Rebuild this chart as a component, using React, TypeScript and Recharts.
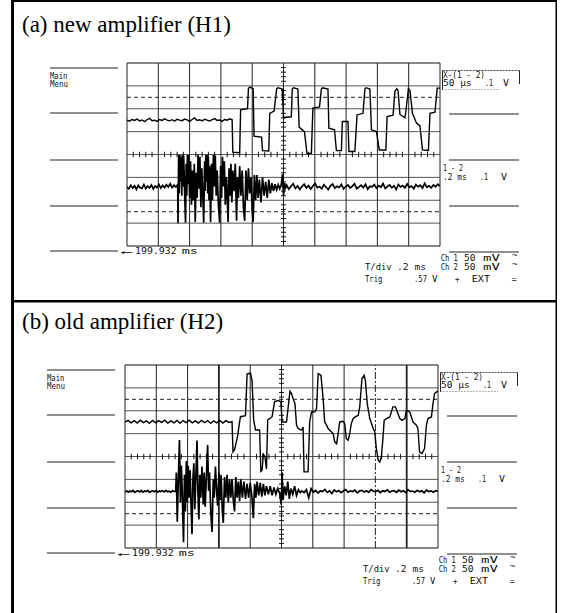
import React from "react";
import { LineChart, Line, XAxis, YAxis, ReferenceLine } from "recharts";

type Pt = { x: number; y: number };

// graticule, in scope divisions (10 x 8)
const gridCols = [0, 1, 2, 3, 4, 5, 6, 7, 8, 9, 10];
const gridRows = [0, 1, 2, 3, 4, 5, 6, 7, 8];
const dashedRows = [1.5, 6.5];
const centerCol = 5;
const centerRow = 4;
const minorX = gridCols.slice(0, -1).flatMap((c) => [c + 0.2, c + 0.4, c + 0.6, c + 0.8]);
const minorY = gridRows.slice(0, -1).flatMap((r) => [r + 0.2, r + 0.4, r + 0.6, r + 0.8]);

// (a) new amplifier: X-(1-2) trace, sampled noise before the steps
const aTopNoise = [
  5.5, 5.46, 5.53, 5.49, 5.55, 5.47, 5.51, 5.44, 5.52, 5.58, 5.48, 5.5, 5.45, 5.53, 5.49, 5.56,
  5.5, 5.47, 5.52, 5.46, 5.54, 5.5, 5.48, 5.55, 5.51, 5.45, 5.53, 5.6, 5.49, 5.52, 5.47, 5.54,
  5.5, 5.46, 5.52, 5.57, 5.49, 5.51, 5.45, 5.53, 5.5, 5.56, 5.52,
];
const aTopSteps = [
  [3.36, 5.5], [3.38, 4.1], [3.6, 4.08], [3.63, 5.95], [3.85, 6.0], [3.88, 6.88], [3.92, 6.95],
  [4.03, 6.88], [4.06, 4.8], [4.3, 4.76], [4.33, 4.17], [4.53, 4.15], [4.56, 5.8], [4.7, 5.9],
  [4.78, 6.86], [4.82, 6.92], [4.96, 6.86], [5.0, 5.62], [5.25, 5.65], [5.28, 6.86], [5.32, 6.92],
  [5.46, 6.86], [5.5, 5.2], [5.67, 5.0], [5.75, 4.05], [5.89, 4.05], [5.94, 6.03], [6.15, 6.08],
  [6.21, 6.86], [6.25, 6.92], [6.42, 6.86], [6.45, 5.15], [6.63, 5.08], [6.69, 4.17], [6.85, 4.17],
  [6.88, 5.44], [7.06, 5.44], [7.09, 4.13], [7.28, 4.13], [7.35, 5.73], [7.54, 5.8], [7.6, 6.86],
  [7.64, 6.92], [7.76, 6.86], [7.81, 5.08], [7.97, 5.0], [8.06, 4.2], [8.27, 4.2], [8.31, 5.66],
  [8.5, 5.72], [8.56, 6.76], [8.62, 6.88], [8.66, 6.8], [8.72, 5.75], [8.88, 5.6], [8.92, 6.0],
  [8.99, 6.88], [9.04, 6.8], [9.12, 5.8], [9.25, 5.37], [9.36, 5.25], [9.44, 4.2], [9.63, 4.18],
  [9.68, 5.8], [9.84, 5.85], [9.91, 6.9], [10, 6.9],
];
// (a) 1-2 trace
const aBotPre = [
  2.58, 2.5, 2.66, 2.53, 2.63, 2.48, 2.65, 2.55, 2.52, 2.69, 2.51, 2.62, 2.54, 2.67, 2.49, 2.62,
  2.56, 2.69, 2.53, 2.65, 2.55, 2.68, 2.58, 2.72, 2.55, 2.66, 2.58, 2.68,
];
const aBotBurst = [
  [1.62, 2.6], [1.63, 1.0], [1.65, 3.98], [1.67, 2.3], [1.69, 3.98], [1.71, 2.8], [1.73, 3.9],
  [1.75, 2.2], [1.77, 3.98], [1.79, 2.6], [1.81, 3.95], [1.84, 2.4], [1.87, 1.02], [1.89, 3.6],
  [1.91, 2.2], [1.93, 3.98], [1.95, 2.7], [1.97, 3.98], [2.0, 2.1], [2.03, 3.7], [2.06, 1.8],
  [2.09, 3.3], [2.12, 2.0], [2.15, 3.6], [2.18, 1.05], [2.21, 3.2], [2.24, 2.1], [2.27, 3.98],
  [2.3, 2.5], [2.33, 3.9], [2.36, 1.7], [2.39, 3.4], [2.42, 2.3], [2.45, 1.02], [2.48, 3.7],
  [2.5, 2.4], [2.52, 3.98], [2.54, 2.8], [2.56, 3.98], [2.58, 2.3], [2.6, 3.9], [2.62, 2.0],
  [2.64, 3.5], [2.67, 1.05], [2.7, 3.6], [2.73, 2.0], [2.76, 3.98], [2.79, 2.6], [2.82, 3.95],
  [2.85, 2.2], [2.88, 3.3], [2.92, 1.8], [2.96, 1.02], [2.99, 3.5], [3.02, 2.1], [3.05, 3.9],
  [3.08, 2.6], [3.11, 3.7], [3.14, 1.8], [3.18, 3.0], [3.23, 1.05], [3.26, 3.4], [3.29, 2.2],
  [3.32, 3.6], [3.35, 1.9], [3.38, 3.3], [3.42, 2.4], [3.46, 3.6], [3.5, 1.1], [3.53, 3.0],
  [3.56, 2.1], [3.6, 3.5], [3.64, 2.2], [3.68, 3.3], [3.72, 1.7], [3.76, 1.1], [3.8, 3.3],
  [3.84, 2.0], [3.88, 3.4], [3.92, 2.3], [3.96, 3.0], [4.0, 1.6], [4.03, 1.05], [4.07, 3.1],
  [4.11, 2.0], [4.15, 3.1], [4.19, 2.1], [4.23, 2.9], [4.28, 1.9], [4.33, 3.0], [4.38, 2.2],
  [4.43, 2.8], [4.48, 2.1], [4.53, 2.9], [4.58, 2.3], [4.63, 2.75], [4.68, 2.4], [4.73, 2.7],
  [4.78, 2.45], [4.83, 2.68], [4.88, 2.5], [4.93, 2.7], [4.97, 3.15], [5.0, 2.2], [5.03, 2.75],
  [5.07, 2.55],
];
const aBotPost = [
  2.66, 2.48, 2.61, 2.72, 2.52, 2.63, 2.47, 2.6, 2.7, 2.54, 2.64, 2.49, 2.62, 2.74, 2.55, 2.6,
  2.5, 2.68, 2.57, 2.47, 2.63, 2.71, 2.53, 2.61, 2.56, 2.69, 2.5, 2.6, 2.67, 2.54, 2.62, 2.72,
  2.51, 2.58, 2.66, 2.55, 2.7, 2.48, 2.61, 2.59, 2.68, 2.53, 2.64, 2.57, 2.73, 2.52, 2.6, 2.67,
  2.55, 2.63, 2.47, 2.69, 2.58, 2.64, 2.54, 2.71, 2.56, 2.62, 2.5, 2.68, 2.59, 2.66, 2.53, 2.74,
  2.57, 2.63, 2.55, 2.67, 2.59, 2.7, 2.62,
];

// (b) old amplifier: X-(1-2) trace
const bTopNoise = [
  5.5, 5.58, 5.47, 5.57, 5.46, 5.59, 5.48, 5.56, 5.45, 5.58, 5.47, 5.57, 5.49, 5.59, 5.46, 5.56,
  5.47, 5.58, 5.45, 5.57, 5.48, 5.59, 5.47, 5.56, 5.46, 5.58, 5.48, 5.57, 5.45, 5.56, 5.47, 5.58,
  5.46, 5.57, 5.49, 5.52,
];
const bTopSteps = [
  [3.42, 5.5], [3.45, 4.2], [3.5, 4.3], [3.6, 4.9], [3.66, 5.5], [3.69, 5.74], [3.85, 5.78],
  [3.9, 7.6], [4.01, 7.64], [4.06, 7.3], [4.11, 5.6], [4.17, 5.16], [4.3, 5.16], [4.34, 3.35],
  [4.38, 3.4], [4.42, 4.1], [4.47, 4.0], [4.52, 3.45], [4.56, 5.6], [4.7, 5.74], [4.78, 6.4],
  [4.9, 6.45], [4.98, 6.4], [5.02, 5.51], [5.16, 5.51], [5.27, 6.85], [5.32, 6.75], [5.37, 6.53],
  [5.43, 6.31], [5.48, 5.37], [5.53, 5.22], [5.64, 5.15], [5.69, 5.29], [5.72, 3.33], [5.85, 3.33],
  [5.9, 5.51], [5.96, 5.95], [6.06, 5.95], [6.12, 6.09], [6.17, 7.62], [6.26, 7.55], [6.33, 6.53],
  [6.38, 5.51], [6.44, 5.37], [6.49, 5.22], [6.54, 5.15], [6.65, 5.0], [6.7, 4.64], [6.76, 4.56],
  [6.81, 5.0], [6.86, 5.51], [6.97, 5.54], [7.02, 5.44], [7.07, 4.78], [7.13, 4.71], [7.18, 5.0],
  [7.23, 5.44], [7.29, 5.66], [7.36, 5.73], [7.45, 5.8], [7.5, 6.17], [7.57, 7.4], [7.64, 7.55],
  [7.68, 7.33], [7.74, 6.31], [7.82, 5.66], [7.93, 5.22], [7.98, 5.07], [8.03, 4.35], [8.09, 3.84],
  [8.14, 3.76], [8.19, 3.98], [8.24, 4.78], [8.28, 5.58], [8.35, 5.66], [8.46, 5.73], [8.51, 5.95],
  [8.56, 6.17], [8.64, 6.17], [8.7, 5.95], [8.78, 5.66], [8.85, 5.58], [8.94, 5.66], [8.99, 6.02],
  [9.1, 5.95], [9.15, 5.73], [9.2, 5.51], [9.31, 5.37], [9.36, 5.22], [9.41, 4.2], [9.49, 4.13],
  [9.57, 4.35], [9.63, 5.37], [9.68, 5.66], [9.79, 5.73], [9.84, 6.31], [9.89, 6.75], [9.98, 6.85],
  [10, 6.85],
];
// (b) 1-2 trace
const bBotPre = [
  2.45, 2.5, 2.44, 2.49, 2.46, 2.52, 2.43, 2.48, 2.5, 2.45, 2.51, 2.44, 2.49, 2.47, 2.52, 2.43,
  2.48, 2.5, 2.46, 2.51, 2.44, 2.49, 2.47, 2.5, 2.45, 2.52, 2.46, 2.48, 2.44, 2.5, 2.47, 2.47,
];
const bBotBurst = [
  [1.62, 2.47], [1.64, 3.3], [1.67, 1.15], [1.7, 2.8], [1.74, 4.72], [1.77, 2.0], [1.8, 3.6],
  [1.83, 2.4], [1.87, 0.25], [1.9, 3.2], [1.93, 1.6], [1.96, 3.8], [1.99, 2.0], [2.02, 3.6],
  [2.05, 2.2], [2.08, 3.4], [2.11, 1.9], [2.14, 0.6], [2.17, 3.0], [2.2, 3.7], [2.23, 1.7],
  [2.26, 2.9], [2.3, 4.7], [2.33, 2.4], [2.36, 1.25], [2.39, 3.2], [2.42, 2.2], [2.46, 3.56],
  [2.5, 1.9], [2.53, 3.3], [2.56, 1.8], [2.6, 3.1], [2.64, 4.5], [2.67, 2.5], [2.7, 3.3],
  [2.74, 1.6], [2.78, 0.7], [2.82, 3.0], [2.85, 2.2], [2.89, 3.56], [2.93, 2.4], [2.96, 1.85],
  [3.0, 3.3], [3.04, 2.1], [3.07, 3.2], [3.11, 1.6], [3.14, 1.1], [3.18, 3.1], [3.22, 2.2],
  [3.26, 3.2], [3.3, 2.0], [3.34, 3.0], [3.38, 2.2], [3.42, 3.0], [3.46, 2.1], [3.5, 1.6],
  [3.54, 3.1], [3.58, 2.2], [3.62, 2.9], [3.66, 2.05], [3.7, 3.0], [3.75, 2.2], [3.8, 2.9],
  [3.85, 2.15], [3.9, 2.8], [3.95, 2.2], [4.0, 2.85], [4.05, 2.3], [4.1, 1.3], [4.14, 2.8],
  [4.18, 2.2], [4.22, 2.9], [4.27, 2.3], [4.32, 2.85], [4.37, 2.25], [4.42, 2.8], [4.47, 2.3],
  [4.52, 2.7], [4.58, 2.35], [4.64, 2.7], [4.7, 2.3], [4.76, 2.65], [4.82, 2.35], [4.88, 2.6],
  [4.94, 2.4], [4.99, 1.9], [5.02, 3.3], [5.05, 2.1], [5.1, 2.7], [5.15, 2.3], [5.2, 2.9],
  [5.25, 2.15], [5.3, 2.6], [5.36, 2.35], [5.42, 2.7], [5.48, 2.3], [5.54, 2.55], [5.6, 2.42],
];
const bBotPost = [
  2.5, 2.42, 2.55, 2.2, 2.6, 2.44, 2.52, 2.4, 2.5, 2.47, 2.56, 2.43, 2.5, 2.38, 2.54, 2.46,
  2.51, 2.42, 2.49, 2.55, 2.44, 2.5, 2.47, 2.53, 2.41, 2.49, 2.52, 2.45, 2.5, 2.43, 2.55, 2.48,
  2.46, 2.52, 2.42, 2.5, 2.47, 2.54, 2.44, 2.49, 2.51, 2.43, 2.53, 2.46, 2.5, 2.42, 2.55, 2.47,
  2.49, 2.44, 2.52, 2.46, 2.5, 2.41, 2.53, 2.47, 2.5, 2.44, 2.51, 2.48,
];

// samples taken at even time steps between start and end
function spread(start: number, end: number, ys: number[]): Pt[] {
  const step = (end - start) / (ys.length - 1);
  return ys.map((y, i) => ({ x: start + i * step, y }));
}
function pairs(list: number[][]): Pt[] {
  return list.map(([x, y]) => ({ x, y }));
}

const aTraces = [
  [...spread(0, 3.36, aTopNoise), ...pairs(aTopSteps)],
  [...spread(0, 1.62, aBotPre), ...pairs(aBotBurst), ...spread(5.1, 10, aBotPost)],
];
const bTraces = [
  [...spread(0, 3.42, bTopNoise), ...pairs(bTopSteps)],
  [...spread(0, 1.62, bBotPre), ...pairs(bBotBurst), ...spread(5.65, 10, bBotPost)],
];

const GRID_W = 313;
const GRID_H = 183;
const PAD = 4;

function Scope({ left, top, traces, heavyCols = [], dashCols = [] }: {
  left: number; top: number; traces: Pt[][]; heavyCols?: number[]; dashCols?: number[];
}) {
  return (
    <div style={{ position: "absolute", left: left - PAD, top: top - PAD }}>
      <LineChart
        width={GRID_W + 2 * PAD}
        height={GRID_H + 2 * PAD}
        margin={{ top: PAD, right: PAD, bottom: PAD, left: PAD }}
      >
        <XAxis type="number" dataKey="x" domain={[0, 10]} hide allowDataOverflow />
        <YAxis type="number" domain={[0, 8]} hide allowDataOverflow />
        {gridRows.map((r) => (
          <ReferenceLine key={"r" + r} y={r} stroke={r === 0 || r === 8 ? "#111" : "#555"} strokeWidth={1} />
        ))}
        {dashedRows.map((r) => (
          <ReferenceLine key={"d" + r} y={r} stroke="#222" strokeWidth={1} strokeDasharray="4 3" />
        ))}
        {gridCols.map((c) => (
          <ReferenceLine
            key={"c" + c}
            x={c}
            stroke="#222"
            strokeWidth={heavyCols.includes(c) ? 1.8 : 1}
            strokeDasharray={dashCols.includes(c) ? "7 2 2 2" : undefined}
          />
        ))}
        {minorX.map((t) => (
          <ReferenceLine key={"mx" + t} segment={[{ x: t, y: centerRow - 0.12 }, { x: t, y: centerRow + 0.12 }]} stroke="#111" strokeWidth={1} />
        ))}
        {minorY.map((t) => (
          <ReferenceLine key={"my" + t} segment={[{ x: centerCol - 0.08, y: t }, { x: centerCol + 0.08, y: t }]} stroke="#111" strokeWidth={1} />
        ))}
        {traces.map((t, i) => (
          <Line
            key={i}
            data={t}
            dataKey="y"
            type="linear"
            stroke="#000"
            strokeWidth={i === 0 ? 1.4 : 1.7}
            dot={false}
            isAnimationActive={false}
          />
        ))}
      </LineChart>
    </div>
  );
}

// scope screen text: [text, x, baseline, width]
const screenText: [string, number, number, number][] = [
  ["Main", 50, 78.5, 17.5],
  ["Menu", 50, 87, 18],
  ["X-(1 - 2)", 443, 77.5, 42],
  ["50 µs", 443, 86, 28.7],
  [".1", 485, 86, 8],
  ["V", 503, 86, 6],
  ["1 - 2", 443, 170.5, 20],
  [".2 ms", 443, 180, 23.7],
  [".1", 480, 180, 8],
  ["V", 501, 180, 6],
  ["Ch 1", 440.7, 260.5, 17],
  ["50", 464, 260.5, 11.5],
  ["mV", 483, 260.5, 17],
  ["T/div", 365, 269.5, 26.7],
  [".2 ms", 397, 269.5, 29],
  ["Ch 2", 440.7, 269.5, 17],
  ["50", 464, 269.5, 11.5],
  ["mV", 483, 269.5, 17],
  ["Trig", 365, 281.5, 17.5],
  [".57", 414, 281.5, 13],
  ["V", 432, 281.5, 5.5],
  ["+", 455, 281.5, 4.5],
  ["EXT", 471.7, 281.5, 18.3],
  ["=", 511.7, 281.5, 5],
  ["←", 120, 254.5, 13],
  ["199.932", 135, 254, 41.7],
  ["ms", 181.7, 254, 16.3],
];
const tildes = [258, 267];

const mono = { fontFamily: "DejaVu Sans Mono", fontSize: 8.5, fill: "#111" } as const;

function Labels({ dy, dxL, dxR }: { dy: number; dxL: number; dxR: number }) {
  const leftLines = [68, 113, 160, 206, 251];
  const rightLines = [114, 160, 206, 252];
  return (
    <g>
      {leftLines.map((y) => (
        <line key={"l" + y} x1={50 + dxL} x2={118 + dxL} y1={y + dy} y2={y + dy} stroke="#222" strokeWidth={1} />
      ))}
      {rightLines.map((y) => (
        <line key={"rr" + y} x1={449 + dxR} x2={519 + dxR} y1={y + dy} y2={y + dy} stroke="#222" strokeWidth={1} />
      ))}
      {screenText.map(([s, x, y, w], i) => {
        const dx = x < 300 ? dxL : dxR;
        return (
          <text key={i} x={x + dx} y={y + dy} textLength={w} lengthAdjust="spacingAndGlyphs" {...mono}>
            {s}
          </text>
        );
      })}
      {tildes.map((y) => (
        <text key={"t" + y} x={512 + dxR} y={y + dy} {...mono} fontSize={9}>~</text>
      ))}
      <line x1={442.5 + dxR} x2={442.5 + dxR} y1={70.5 + dy} y2={90 + dy} stroke="#222" />
      <line x1={519.5 + dxR} x2={519.5 + dxR} y1={70.5 + dy} y2={84 + dy} stroke="#222" />
      <line x1={442.5 + dxR} x2={519.5 + dxR} y1={70.5 + dy} y2={70.5 + dy} stroke="#444" strokeDasharray="2 1" />
      <line x1={442.5 + dxR} x2={500 + dxR} y1={89.5 + dy} y2={89.5 + dy} stroke="#666" strokeDasharray="1 2" />
    </g>
  );
}

export default function App() {
  return (
    <div style={{ position: "absolute", left: 0, top: 0, width: 564, height: 613, background: "#fff", overflow: "hidden" }}>
      <svg width={564} height={613} style={{ position: "absolute", left: 0, top: 0 }}>
        <rect x={11} y={0} width={3} height={613} fill="#000" />
        <rect x={11} y={0} width={546} height={2} fill="#000" />
        <rect x={555.5} y={0} width={1.5} height={613} fill="#000" />
        <rect x={11} y={300} width={546} height={2.5} fill="#000" />
        <text x={22} y={32} fontFamily="Liberation Serif" fontSize={23} fill="#000">(a) new amplifier (H1)</text>
        <text x={22} y={329} fontFamily="Liberation Serif" fontSize={23} fill="#000">(b) old amplifier (H2)</text>
        <Labels dy={0} dxL={0} dxR={0} />
        <Labels dy={302} dxL={-3} dxR={-2} />
      </svg>
      <Scope left={127} top={63} traces={aTraces} />
      <Scope left={124.5} top={365} traces={bTraces} heavyCols={[3, 9]} dashCols={[8]} />
    </div>
  );
}
